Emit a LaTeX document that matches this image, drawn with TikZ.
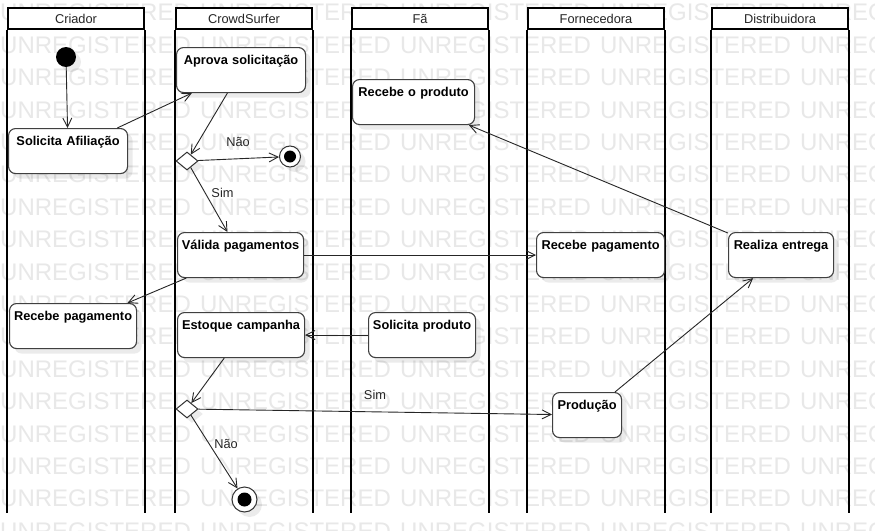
\documentclass[tikz,border=0pt]{standalone}
\usepackage{fontspec}
\setmainfont{Liberation Sans}
\usetikzlibrary{arrows.meta,shapes.geometric,shadows}
\begin{document}
\begin{tikzpicture}[x=1pt,y=-1pt,
  every node/.style={font=\fontsize{12.8}{14}\selectfont, text=black!85},
  wm/.style={font=\fontsize{24}{26}\selectfont, text=black!9, inner sep=0pt, anchor=west},
  lanehead/.style={draw=black, line width=2.2pt, fill=white, minimum width=136pt, minimum height=21pt, inner sep=0pt},
  laneline/.style={draw=black, line width=2.2pt},
  shad/.style={drop shadow={shadow xshift=5pt, shadow yshift=-5pt, fill=black, opacity=0.08}},
  actbox/.style={draw=black!75, line width=1.1pt, rounded corners=7pt, fill=white, shad,
    font=\bfseries\fontsize{12.8}{14}\selectfont, text=black, align=center,
    inner xsep=0pt, inner ysep=5pt, text height=12pt, text depth=23pt, anchor=north west},
  initnode/.style={circle, fill=black, minimum size=20pt, inner sep=0pt, shad},
  finalnode/.style={circle, draw=black!80, line width=1pt, fill=white, inner sep=0pt, shad},
  decnode/.style={diamond, draw=black!80, line width=1pt, fill=white, minimum width=22pt, minimum height=18pt, inner sep=0pt, aspect=1.2, shad},
  flow/.style={draw=black!85, line width=0.9pt, -{Straight Barb[length=9pt,width=9pt]}},
  lbl/.style={inner sep=0pt}
]
\fill[white] (0,0) rectangle (875,530);
\useasboundingbox (0,0) rectangle (875,530);

% watermark
\foreach \r in {0,...,16}{
  \foreach \c in {0,...,4}{
    \node[wm] (wm-\r-\c) at ({200*\c}, {12.6+32.4*\r}) {UNREGISTERED};
  }
}

% swimlanes
\node[lanehead] (hCri) at (76,18.5) {Criador};
\node[lanehead] (hCro) at (244,18.5) {CrowdSurfer};
\node[lanehead] (hFa) at (420,18.5) {Fã};
\node[lanehead] (hFor) at (596,18.5) {Fornecedora};
\node[lanehead] (hDis) at (780,18.5) {Distribuidora};
\foreach \h in {hCri,hCro,hFa,hFor,hDis}{
  \draw[laneline] (\h.south west) -- ++(0,483);
  \draw[laneline] (\h.south east) -- ++(0,483);
}

% activities
\node[actbox, text width=119pt] (solaf) at (8,128) {Solicita Afiliação};
\node[actbox, text width=129pt] (aprova) at (176,47) {Aprova solicitação};
\node[actbox, text width=122pt] (recprod) at (352,79) {Recebe o produto};
\node[actbox, text width=126pt] (valida) at (177,232) {Válida pagamentos};
\node[actbox, text width=127pt] (recpagC) at (9,303) {Recebe pagamento};
\node[actbox, text width=127pt] (estoque) at (177,312) {Estoque campanha};
\node[actbox, text width=107pt] (solprod) at (368,312) {Solicita produto};
\node[actbox, text width=128pt] (recpagF) at (536,232) {Recebe pagamento};
\node[actbox, text width=105pt] (realiza) at (728,232) {Realiza entrega};
\node[actbox, text width=69pt] (producao) at (552,392) {Produção};

% control nodes
\node[initnode] (init) at (66,57) {};
\node[decnode] (dec1) at (187,161) {};
\node[decnode] (dec2) at (187,409) {};
\node[finalnode, minimum size=21pt, path picture={\fill[black] (path picture bounding box.center) circle (6pt);}] (fin1) at (290,156.5) {};
\node[finalnode, minimum size=25pt, path picture={\fill[black] (path picture bounding box.center) circle (7pt);}] (fin2) at (244.5,499.5) {};

% flows
\draw[flow] (init) -- (solaf);
\draw[flow] (solaf) -- (aprova);
\draw[flow] (aprova) -- (dec1);
\draw[flow] (dec1) -- (fin1);
\draw[flow] (dec1) -- (valida);
\draw[flow] (valida) -- (recpagF);
\draw[flow] (valida) -- (recpagC);
\draw[flow] (realiza) -- (recprod);
\draw[flow] (solprod) -- (estoque);
\draw[flow] (estoque) -- (dec2);
\draw[flow] (dec2) -- (producao);
\draw[flow] (dec2) -- (fin2);
\draw[flow] (producao) -- (realiza);

% labels
\node[lbl] (lNao1) at (238,142) {Não};
\node[lbl] (lSim1) at (222.5,192.5) {Sim};
\node[lbl] (lSim2) at (375,394.5) {Sim};
\node[lbl] (lNao2) at (226,444) {Não};
\end{tikzpicture}
\end{document}
